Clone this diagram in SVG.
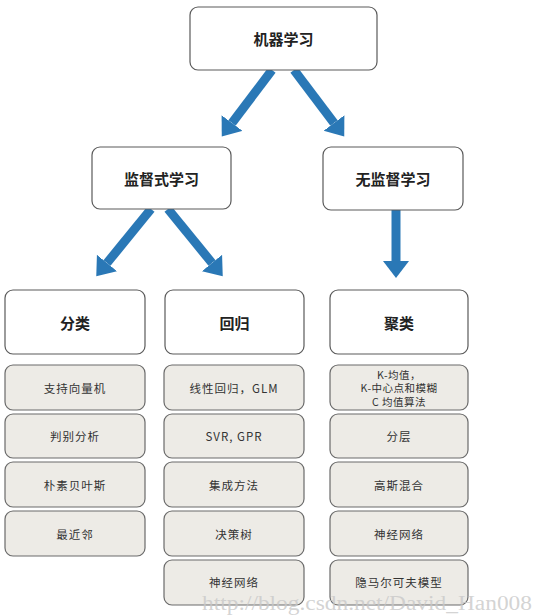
<svg xmlns="http://www.w3.org/2000/svg" width="543" height="616" viewBox="0 0 543 616">
<defs>
<style>
.hd{fill:#fff;stroke:#5a5a5a;stroke-width:1.2}
.it{fill:#edebe6;stroke:#6a6a6a;stroke-width:1.2}
.ht{font-family:"Noto Sans CJK SC","Noto Sans",sans-serif;font-weight:bold;font-size:15px;fill:#222;text-anchor:middle;dominant-baseline:central}
.tt{font-family:"Noto Sans CJK SC","Noto Sans",sans-serif;font-size:11.5px;fill:#333;text-anchor:middle;dominant-baseline:central;letter-spacing:1px}
.sm{font-size:10.5px;letter-spacing:0.5px}
.ar{stroke:#2a78b6;stroke-width:9;fill:none;marker-end:url(#ah)}
</style>
<marker id="ah" markerUnits="userSpaceOnUse" markerWidth="18" markerHeight="28" refX="0" refY="13" orient="auto">
<path d="M0,0 L17,13 L0,26 z" fill="#2a78b6"/>
</marker>
</defs>
<rect width="543" height="616" fill="#fff"/>
<g id="connectors">
<line class="ar" x1="272" y1="70" x2="232" y2="123"/>
<line class="ar" x1="294" y1="70" x2="334" y2="123"/>
<line class="ar" x1="151" y1="209" x2="107" y2="263"/>
<line class="ar" x1="168" y1="209" x2="212" y2="263"/>
<line class="ar" x1="396" y1="210" x2="396" y2="261"/>
</g>
<g id="n-ml"><rect class="hd" x="190" y="7" width="187" height="63" rx="8"/><text class="ht" x="283.5" y="38.5">机器学习</text></g>
<g id="n-sup"><rect class="hd" x="92" y="147" width="139" height="62" rx="8"/><text class="ht" x="161.5" y="178">监督式学习</text></g>
<g id="n-unsup"><rect class="hd" x="323" y="147" width="140" height="63" rx="8"/><text class="ht" x="393" y="178.5">无监督学习</text></g>
<g id="n-cls"><rect class="hd" x="5" y="290" width="140" height="64" rx="8"/><text class="ht" x="75" y="322">分类</text></g>
<g id="n-reg"><rect class="hd" x="165" y="290" width="139" height="64" rx="8"/><text class="ht" x="234.5" y="322">回归</text></g>
<g id="n-clu"><rect class="hd" x="330" y="290" width="138" height="64" rx="8"/><text class="ht" x="399" y="322">聚类</text></g>

<g id="n-svm"><rect class="it" x="5" y="365" width="140" height="45" rx="8"/><text class="tt" x="75" y="387.5">支持向量机</text></g>
<g id="n-da"><rect class="it" x="5" y="414" width="140" height="44" rx="8"/><text class="tt" x="75" y="436">判别分析</text></g>
<g id="n-nb"><rect class="it" x="5" y="462" width="140" height="45" rx="8"/><text class="tt" x="75" y="484.5">朴素贝叶斯</text></g>
<g id="n-knn"><rect class="it" x="5" y="511" width="140" height="45" rx="8"/><text class="tt" x="75" y="533.5">最近邻</text></g>

<g id="n-lin"><rect class="it" x="164" y="365" width="140" height="45" rx="8"/><text class="tt" x="234" y="387.5">线性回归，GLM</text></g>
<g id="n-svr"><rect class="it" x="164" y="414" width="140" height="44" rx="8"/><text class="tt" x="234" y="436">SVR, GPR</text></g>
<g id="n-ens"><rect class="it" x="164" y="462" width="140" height="45" rx="8"/><text class="tt" x="234" y="484.5">集成方法</text></g>
<g id="n-dt"><rect class="it" x="164" y="511" width="140" height="45" rx="8"/><text class="tt" x="234" y="533.5">决策树</text></g>
<g id="n-nn1"><rect class="it" x="164" y="560" width="140" height="45" rx="8"/><text class="tt" x="234" y="581.5">神经网络</text></g>

<g id="n-km"><rect class="it" x="330" y="365" width="138" height="45" rx="8"/><text class="tt sm" x="399" y="374">K-均值，</text><text class="tt sm" x="399" y="387.5">K-中心点和模糊</text><text class="tt sm" x="399" y="401">C 均值算法</text></g>
<g id="n-hier"><rect class="it" x="330" y="414" width="138" height="44" rx="8"/><text class="tt" x="399" y="436">分层</text></g>
<g id="n-gmm"><rect class="it" x="330" y="462" width="138" height="45" rx="8"/><text class="tt" x="399" y="484.5">高斯混合</text></g>
<g id="n-nn2"><rect class="it" x="330" y="511" width="138" height="45" rx="8"/><text class="tt" x="399" y="533.5">神经网络</text></g>
<g id="n-hmm"><rect class="it" x="330" y="560" width="138" height="45" rx="8"/><text class="tt" x="399" y="581.5">隐马尔可夫模型</text></g>

<text x="202" y="610" font-family="Liberation Serif, serif" font-size="20" fill="#c8c8c8" fill-opacity="0.8" textLength="330" lengthAdjust="spacingAndGlyphs">http://blog.csdn.net/David_Han008</text>
</svg>
